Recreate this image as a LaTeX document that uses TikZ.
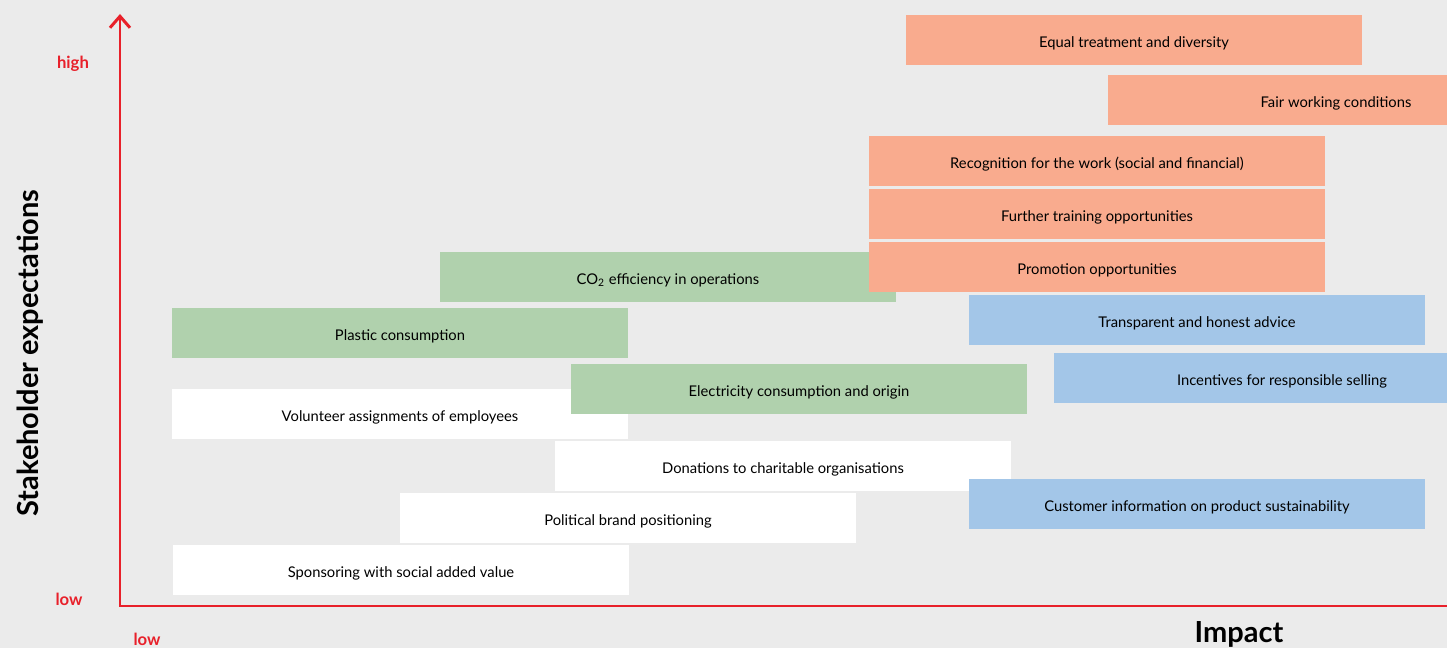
\documentclass[tikz,border=0pt]{standalone}
\usepackage{fontspec}
\setmainfont{Lato}
\usetikzlibrary{arrows.meta}

\definecolor{bgrey}{HTML}{EBEBEB}
\definecolor{axred}{HTML}{E8202A}
\definecolor{social}{HTML}{F9AB8E}
\definecolor{ecol}{HTML}{B0D1AD}
\definecolor{cust}{HTML}{A3C6E8}

\begin{document}
\begin{tikzpicture}
    [x=0.02cm, y=-0.02cm,
     topic/.style={rectangle, inner sep=0pt, minimum width=9.12cm, minimum height=1cm, text height=8pt, text depth=0pt, font=\fontsize{8.4}{10}\selectfont},
     soc/.style={topic, fill=social}, eco/.style={topic, fill=ecol}, cst/.style={topic, fill=cust}, gen/.style={topic, fill=white},
     axis/.style={draw=axred, line width=1.7pt},
     level/.style={text=axred, font=\fontsize{9.5}{11}\selectfont\bfseries},
     title/.style={font=\fontsize{16.5}{19}\selectfont\bfseries}]
    \fill[bgrey] (0,0) rectangle (1447,648);
    \useasboundingbox (0,0) rectangle (1447,648);
    \clip (0,0) rectangle (1447,648);
    \begin{scope}
    \node[gen] (volunteer) at (400,414) {Volunteer assignments of employees};
    \node[gen] (donat) at (783,466) {Donations to charitable organisations};
    \node[gen] (political) at (628,518) {Political brand positioning};
    \node[gen] (sponsor) at (401,570) {Sponsoring with social added value};
    \node[eco] (co2) at (668,277) {CO\textsubscript{2} efficiency in operations};
    \node[eco] (plastic) at (400,333) {Plastic consumption};
    \node[eco] (electr) at (799,389) {Electricity consumption and origin};
    \node[soc] (equal) at (1134,40) {Equal treatment and diversity};
    \node[soc] (fair) at (1336,100) {Fair working conditions};
    \node[soc] (recog) at (1097,161) {Recognition for the work (social and financial)};
    \node[soc] (training) at (1097,214) {Further training opportunities};
    \node[soc] (promo) at (1097,267) {Promotion opportunities};
    \node[cst] (transp) at (1197,320) {Transparent and honest advice};
    \node[cst] (incent) at (1282,378) {Incentives for responsible selling};
    \node[cst] (custinfo) at (1197,504) {Customer information on product sustainability};
    \end{scope}
    \coordinate (origin) at (120,606);
    \coordinate (ytip) at (120,14);
    \coordinate (xend) at (1450,606);
    \draw[axis, {Straight Barb[length=2.3mm, width=4mm]}-] (ytip) -- (origin) -- (xend);
    \node[level] (yhigh) at (73,64) {high};
    \node[level] (ylow) at (69,599) {low};
    \node[level] (xlow) at (147,639) {low};
    \node[title] (xlab) at (1239,634) {Impact};
    \node[title, rotate=90] (ylab) at (30,353) {Stakeholder expectations};
\end{tikzpicture}
\end{document}
